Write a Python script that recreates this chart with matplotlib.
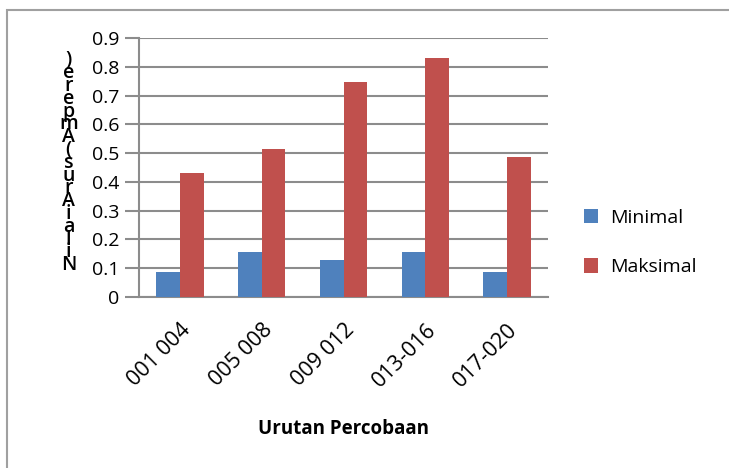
import matplotlib
matplotlib.use("Agg")
import matplotlib.pyplot as plt
import numpy as np
from matplotlib.patches import Rectangle

categories = ["001 004", "005 008", "009 012", "013-016", "017-020"]
minimal = [0.088, 0.156, 0.129, 0.156, 0.088]
maksimal = [0.431, 0.515, 0.746, 0.829, 0.488]
y_label = "Nilai Arus (Ampere)"
x_label = "Urutan Percobaan"

BLUE = "#4F81BD"
RED = "#C0504D"
GRID = "#8C8C8C"

plt.rcParams["font.family"] = ["Open Sans", "DejaVu Sans"]

fig = plt.figure(figsize=(7.29, 4.68), dpi=100)
ax = fig.add_axes([0.1907, 0.3654, 0.5610, 0.5534])

x = np.arange(len(categories)) + 0.5
w = 0.29
ax.bar(x - w / 2, minimal, w, color=BLUE, label="Minimal", zorder=3)
ax.bar(x + w / 2, maksimal, w, color=RED, label="Maksimal", zorder=3)

ax.set_xlim(0, len(categories))
ax.set_ylim(0, 0.9)
ax.set_yticks(np.arange(0, 0.91, 0.1))
ax.set_yticklabels(["0"] + [f"{v:.1f}" for v in np.arange(0.1, 0.91, 0.1)], fontsize=14)
ax.yaxis.grid(True, color=GRID, lw=1.5, zorder=0)
ax.tick_params(axis="y", length=10, width=1.5, color=GRID, pad=4)
ax.set_xticks(x)
ax.set_xticklabels(categories, rotation=45, ha="right", rotation_mode="anchor", fontsize=15.5)
ax.tick_params(axis="x", length=0, pad=16)
for s in ["top", "right"]:
    ax.spines[s].set_visible(False)
for s in ["left", "bottom"]:
    ax.spines[s].set_color(GRID)
    ax.spines[s].set_linewidth(1.5)

ax.set_xlabel(x_label, fontsize=13.5, fontweight="bold", labelpad=20)

# stacked y label, as in the source image
stacked = "\n".join(c for c in reversed(y_label) if c != " ")
fig.text(0.094, 0.652, stacked, fontsize=14, fontweight="semibold",
         ha="center", va="center", linespacing=0.52)

ax.legend(loc="center left", bbox_to_anchor=(1.045, 0.21), frameon=False,
          fontsize=14, handlelength=0.75, handleheight=0.75,
          labelspacing=1.6, handletextpad=0.6)

fig.add_artist(Rectangle((7 / 729, -0.05), 1.1, 1 - 10 / 468 + 0.05,
                         transform=fig.transFigure, fill=False,
                         edgecolor="#A0A0A0", lw=1.5))

fig.savefig("out.png", dpi=100)
